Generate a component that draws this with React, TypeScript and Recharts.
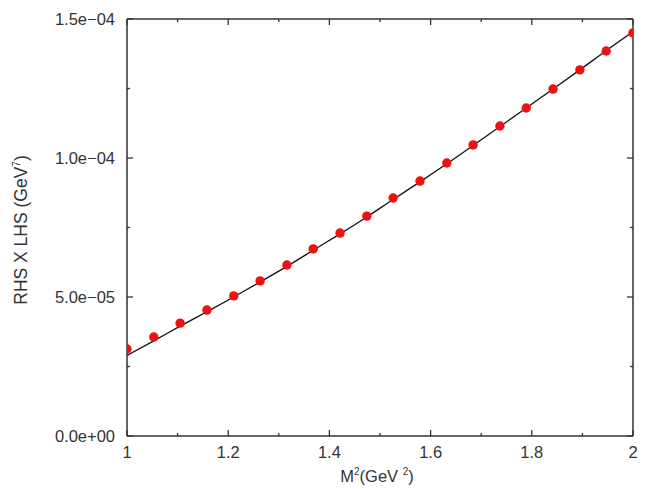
import React from "react";
import {
  ComposedChart,
  Line,
  Scatter,
  XAxis,
  YAxis,
} from "recharts";

// M^2 values (GeV^2), 20 evenly spaced points between 1 and 2
const m2Points = [
  1.0, 1.053, 1.105, 1.158, 1.211, 1.263, 1.316, 1.368, 1.421, 1.474,
  1.526, 1.579, 1.632, 1.684, 1.737, 1.789, 1.842, 1.895, 1.947, 2.0,
];
// RHS x LHS, in units of 1e-6 GeV^7 (red dots)
const rhsLhs = [
  31.3, 35.6, 40.6, 45.3, 50.4, 55.8, 61.5, 67.3, 73.0, 79.1,
  85.6, 91.7, 98.2, 104.7, 111.5, 118.0, 124.8, 131.7, 138.5, 145.0,
];
// fitted curve, same units
const fitCurve = [
  29.0, 34.2, 39.5, 44.7, 50.0, 55.4, 61.0, 66.8, 72.7, 78.8,
  85.1, 91.4, 97.9, 104.5, 111.3, 118.0, 124.8, 131.7, 138.6, 145.4,
];

const xTicks = [1, 1.1, 1.2, 1.3, 1.4, 1.5, 1.6, 1.7, 1.8, 1.9, 2];
const xMajor = [1, 1.2, 1.4, 1.6, 1.8, 2];
const xLabels = ["1", "1.2", "1.4", "1.6", "1.8", "2"];
const yTicks = [0, 25, 50, 75, 100, 125, 150];
const yMajor = [0, 50, 100, 150];
const yLabels = ["0.0e+00", "5.0e\u221205", "1.0e\u221204", "1.5e\u221204"];

const dots = m2Points.map((x, i) => ({ x, y: rhsLhs[i] }));
const curve = m2Points.map((x, i) => ({ x, y: fitCurve[i] }));

const AXIS = "#333";
const TEXT = "#333";
const FONT = "'Liberation Sans', Arial, sans-serif";
const MAJ = 6;
const MIN = 3;

const isMajor = (list: number[], v: number) =>
  list.some((m) => Math.abs(m - v) < 1e-9);

function BottomTick({ x, y, payload }: any) {
  const v = payload.value;
  const major = isMajor(xMajor, v);
  const idx = xMajor.findIndex((m) => Math.abs(m - v) < 1e-9);
  return (
    <g>
      <line x1={x} x2={x} y1={y} y2={y - (major ? MAJ : MIN)} stroke={AXIS} strokeWidth={1.3} />
      {major && (
        <text x={x} y={y + 22} textAnchor="middle" fontSize={16.5} fontFamily={FONT} fill={TEXT}>
          {xLabels[idx]}
        </text>
      )}
    </g>
  );
}

function TopTick({ x, y, payload }: any) {
  const major = isMajor(xMajor, payload.value);
  return <line x1={x} x2={x} y1={y} y2={y + (major ? MAJ : MIN)} stroke={AXIS} strokeWidth={1.3} />;
}

function LeftTick({ x, y, payload }: any) {
  const v = payload.value;
  const major = isMajor(yMajor, v);
  const idx = yMajor.findIndex((m) => Math.abs(m - v) < 1e-9);
  return (
    <g>
      <line x1={x} x2={x + (major ? MAJ : MIN)} y1={y} y2={y} stroke={AXIS} strokeWidth={1.3} />
      {major && (
        <text x={x - 12} y={y + 6} textAnchor="end" fontSize={16.5} fontFamily={FONT} fill={TEXT}>
          {yLabels[idx]}
        </text>
      )}
    </g>
  );
}

function RightTick({ x, y, payload }: any) {
  const major = isMajor(yMajor, payload.value);
  return <line x1={x} x2={x - (major ? MAJ : MIN)} y1={y} y2={y} stroke={AXIS} strokeWidth={1.3} />;
}

function Dot({ cx, cy }: any) {
  return <circle cx={cx} cy={cy} r={4.7} fill="#f01010" />;
}

export default function App() {
  return (
    <div style={{ position: "absolute", left: 0, top: 0, width: 650, height: 489, background: "#fff" }}>
      <ComposedChart
        width={650}
        height={489}
        margin={{ top: 18, right: 16, bottom: 3, left: 10 }}
      >
        <XAxis
          xAxisId="b"
          dataKey="x"
          type="number"
          domain={[1, 2]}
          ticks={xTicks}
          interval={0}
          tickSize={0}
          tickMargin={0}
          tick={<BottomTick />}
          tickLine={false}
          axisLine={{ stroke: AXIS, strokeWidth: 1.5 }}
          height={50}
          allowDataOverflow
        />
        <XAxis
          xAxisId="t"
          orientation="top"
          dataKey="x"
          type="number"
          domain={[1, 2]}
          ticks={xTicks}
          interval={0}
          tickSize={0}
          tickMargin={0}
          tick={<TopTick />}
          tickLine={false}
          axisLine={{ stroke: AXIS, strokeWidth: 1.5 }}
          height={1}
          allowDataOverflow
        />
        <YAxis
          yAxisId="l"
          type="number"
          domain={[0, 150]}
          ticks={yTicks}
          interval={0}
          tickSize={0}
          tickMargin={0}
          tick={<LeftTick />}
          tickLine={false}
          axisLine={{ stroke: AXIS, strokeWidth: 1.5 }}
          width={117}
          allowDataOverflow
        />
        <YAxis
          yAxisId="r"
          orientation="right"
          type="number"
          domain={[0, 150]}
          ticks={yTicks}
          interval={0}
          tickSize={0}
          tickMargin={0}
          tick={<RightTick />}
          tickLine={false}
          axisLine={{ stroke: AXIS, strokeWidth: 1.5 }}
          width={1}
          allowDataOverflow
        />
        <Line
          xAxisId="b"
          yAxisId="l"
          data={curve}
          dataKey="y"
          type="monotone"
          stroke="#111"
          strokeWidth={1.3}
          dot={false}
          activeDot={false}
          isAnimationActive={false}
        />
        <Scatter
          xAxisId="b"
          yAxisId="l"
          data={dots}
          dataKey="y"
          shape={<Dot />}
          isAnimationActive={false}
        />
        <text x={377} y={482} textAnchor="middle" fontSize={16.5} fontFamily={FONT} fill={TEXT}>
          M<tspan dy={-7} fontSize={10}>2</tspan>
          <tspan dy={7}>(GeV </tspan>
          <tspan dy={-7} fontSize={10}>2</tspan>
          <tspan dy={7}>)</tspan>
        </text>
        <text
          x={0}
          y={0}
          transform="translate(27,230) rotate(-90)"
          textAnchor="middle"
          fontSize={17.5}
          fontFamily={FONT}
          fill={TEXT}
        >
          RHS X LHS (GeV<tspan dy={-7} fontSize={10}>7</tspan>
          <tspan dy={7}>)</tspan>
        </text>
      </ComposedChart>
    </div>
  );
}
